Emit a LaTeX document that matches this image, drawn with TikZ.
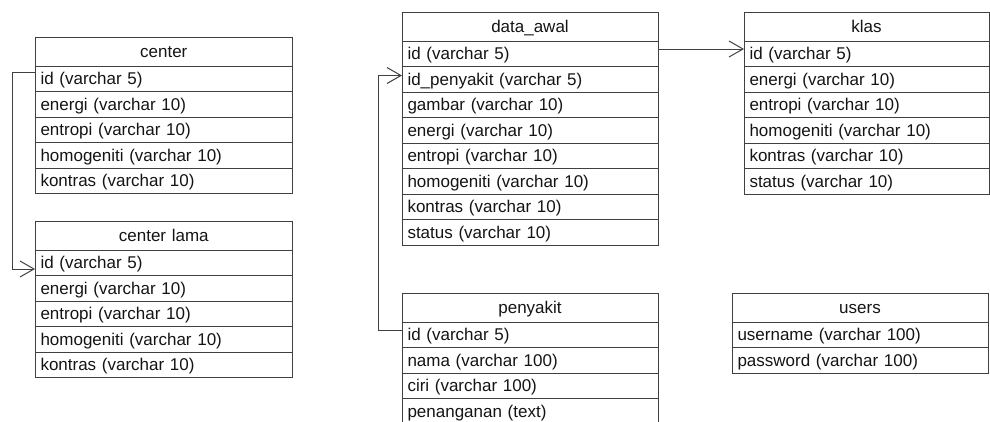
\documentclass[tikz,border=0pt]{standalone}
\usepackage{fontspec}
\setmainfont{Liberation Sans}
\usetikzlibrary{arrows.meta}
\definecolor{linegray}{gray}{0.25}
\definecolor{textgray}{gray}{0.08}
\tikzset{
  cell/.style={draw=linegray, line width=1pt, rectangle, outer sep=0pt,
    inner xsep=5.5pt, inner ysep=0pt, text height=13pt, text depth=1.2pt,
    text=textgray, font=\fontsize{17}{20}\selectfont},
  hdr/.style={cell, minimum height=29pt, align=center},
  fld/.style={cell, minimum height=25.5pt, align=left},
  conn/.style={draw=linegray, line width=1pt, -{Straight Barb[length=14pt,width=16pt]}}
}
\newcommand\erdtable[6]{%
  \pgfmathsetmacro\erdtw{#4-11}%
  \node[hdr, minimum width=#4pt, text width=\erdtw pt, anchor=north west] (#1) at (#2,-#3) {#5};
  \foreach \r [count=\i] in {#6} {
    \node[fld, minimum width=#4pt, text width=\erdtw pt, anchor=north west] (#1-\i) at (#2,{-(#3+3.5+\i*25.5)}) {\r};
  }
}
\begin{document}
\begin{tikzpicture}[x=1pt,y=1pt]
\useasboundingbox (0,0) rectangle (990,-421);
\clip (0,0) rectangle (990,-421);
\erdtable{c}{35}{37}{257.5}{center}{id (varchar 5),energi (varchar 10),entropi (varchar 10),homogeniti (varchar 10),kontras (varchar 10)}
\erdtable{cl}{35}{221}{257.5}{center lama}{id (varchar 5),energi (varchar 10),entropi (varchar 10),homogeniti (varchar 10),kontras (varchar 10)}
\erdtable{da}{402}{12}{256}{data\_awal}{id (varchar 5),id\_penyakit (varchar 5),gambar (varchar 10),energi (varchar 10),entropi (varchar 10),homogeniti (varchar 10),kontras (varchar 10),status (varchar 10)}
\erdtable{k}{744}{12}{245}{klas}{id (varchar 5),energi (varchar 10),entropi (varchar 10),homogeniti (varchar 10),kontras (varchar 10),status (varchar 10)}
\erdtable{p}{402}{293}{256}{penyakit}{id (varchar 5),nama (varchar 100),ciri (varchar 100),penanganan (text)}
\erdtable{u}{732}{293}{256}{users}{username (varchar 100),password (varchar 100)}
\draw[conn] ([yshift=6.75pt]c-1.west) -- ++(-23,0) |- ([yshift=-6.25pt]cl-1.west);
\draw[conn] ([yshift=4.75pt]da-1.east) -- ([yshift=4.75pt]k-1.west);
\draw[conn] ([yshift=4.75pt]p-1.west) -- ++(-24,0) |- ([yshift=3.75pt]da-2.west);
\end{tikzpicture}
\end{document}
